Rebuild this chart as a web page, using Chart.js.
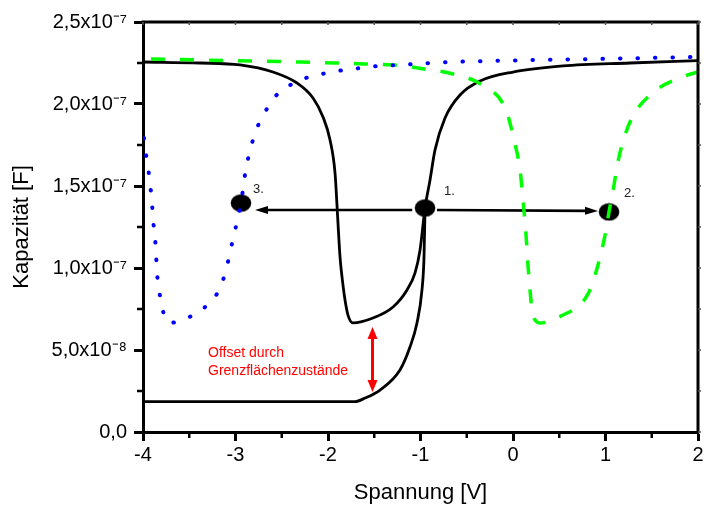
<!DOCTYPE html>
<html><head><meta charset="utf-8">
<script src="https://cdn.jsdelivr.net/npm/chart.js@4/dist/chart.umd.min.js"></script>
<style>html,body{margin:0;padding:0;background:#fff}#wrap{width:704px;height:510px}</style>
</head><body><div id="wrap"><canvas id="c" width="704" height="510"></canvas></div>
<script>
// ---- data (voltage in V, capacitance in F) ----
const xTickValues = [-4, -3, -2, -1, 0, 1, 2];
const xTickLabels = ['-4', '-3', '-2', '-1', '0', '1', '2'];
const yTickValues = [0, 0.5e-7, 1e-7, 1.5e-7, 2e-7, 2.5e-7];
const yTickLabels = ['0,0', '5,0x10\u207B\u2078', '1,0x10\u207B\u2077', '1,5x10\u207B\u2077', '2,0x10\u207B\u2077', '2,5x10\u207B\u2077'];

const blackUpperX = [-4.000,-3.384,-2.951,-2.595,-2.335,-2.162,-2.054,-1.978,-1.924,-1.892,-1.870,-1.838,-1.816,-1.784,-1.730,-1.514,-1.297,-1.146,-1.059,-1.005,-0.951,-0.897,-0.843,-0.735,-0.573,-0.357,0.000,0.541,1.265,2.000];
const blackUpperY = [2.256e-7,2.250e-7,2.238e-7,2.195e-7,2.128e-7,2.037e-7,1.921e-7,1.781e-7,1.579e-7,1.274e-7,1.067e-7,0.896e-7,0.805e-7,0.713e-7,0.665e-7,0.695e-7,0.762e-7,0.866e-7,0.970e-7,1.110e-7,1.366e-7,1.537e-7,1.720e-7,1.915e-7,2.055e-7,2.140e-7,2.195e-7,2.232e-7,2.250e-7,2.265e-7];

const blackLowerX = [-4.000,-1.708,-1.600,-1.438,-1.222,-1.114,-1.038,-0.984,-0.962,-0.951];
const blackLowerY = [0.185e-7,0.185e-7,0.207e-7,0.256e-7,0.378e-7,0.518e-7,0.665e-7,0.866e-7,1.067e-7,1.366e-7];

const blueX = [-3.989,-3.978,-3.946,-3.924,-3.903,-3.892,-3.870,-3.859,-3.849,-3.827,-3.795,-3.719,-3.524,-3.341,-3.189,-3.114,-3.070,-3.027,-2.984,-2.941,-2.886,-2.843,-2.789,-2.703,-2.584,-2.389,-2.205,-2.011,-1.827,-1.632,-1.449,-1.254,-1.059,-0.681,-0.303,0.941,2.000];
const blueY = [1.793e-7,1.732e-7,1.616e-7,1.512e-7,1.403e-7,1.299e-7,1.189e-7,1.085e-7,0.976e-7,0.872e-7,0.762e-7,0.665e-7,0.695e-7,0.756e-7,0.854e-7,0.963e-7,1.067e-7,1.177e-7,1.281e-7,1.396e-7,1.610e-7,1.714e-7,1.823e-7,1.927e-7,2.037e-7,2.122e-7,2.165e-7,2.189e-7,2.207e-7,2.220e-7,2.232e-7,2.238e-7,2.244e-7,2.256e-7,2.262e-7,2.275e-7,2.287e-7];

const greenX = [-4.000,-2.303,-1.924,-1.600,-1.286,-0.962,-0.649,-0.335,-0.076,0.011,0.076,0.108,0.141,0.162,0.184,0.205,0.259,0.292,0.519,0.811,0.919,0.995,1.038,1.092,1.124,1.178,1.286,1.535,1.859,2.000];
const greenY = [2.275e-7,2.256e-7,2.250e-7,2.244e-7,2.238e-7,2.214e-7,2.183e-7,2.116e-7,1.964e-7,1.781e-7,1.598e-7,1.415e-7,1.201e-7,1.018e-7,0.866e-7,0.744e-7,0.671e-7,0.665e-7,0.707e-7,0.842e-7,1.018e-7,1.201e-7,1.342e-7,1.506e-7,1.616e-7,1.750e-7,1.915e-7,2.079e-7,2.171e-7,2.195e-7];

// marked points 1., 2., 3.
const markX = [-0.951, 1.038, -2.941];
const markY = [1.366e-7, 1.342e-7, 1.396e-7];
const markLabels = ['1.', '2.', '3.'];
const markLabelX = [-0.746, 1.200, -2.811];
const markLabelY = [1.464e-7, 1.457e-7, 1.482e-7];

// arrows (from -> to)
const arrowFromX = [-1.090, -0.822];
const arrowFromY = [1.354e-7, 1.354e-7];
const arrowToX = [-2.789, 0.919];
const arrowToY = [1.354e-7, 1.348e-7];

// red offset arrow and note
const offsetArrowX = -1.519;
const offsetArrowY = [0.640e-7, 0.244e-7];
const noteLines = ['Offset durch', 'Grenzflächenzustände'];
const noteX = -3.297;
const noteY = [0.482e-7, 0.372e-7];

const xMinor = [-3.5, -2.5, -1.5, -0.5, 0.5, 1.5];
const yMinor = [0.25e-7, 0.75e-7, 1.25e-7, 1.75e-7, 2.25e-7];

const FONT = '"Liberation Sans", Arial, sans-serif';

function pts(xs, ys) { return xs.map((x, i) => ({x: x, y: ys[i]})); }

// ellipse marker
const dot = document.createElement('canvas');
dot.width = 22; dot.height = 19;
(function(){ const g = dot.getContext('2d'); g.fillStyle = '#000'; g.beginPath(); g.ellipse(11, 9.5, 10.3, 8.8, 0, 0, Math.PI*2); g.fill(); })();

function arrowHead(ctx, x1, y1, x2, y2, len, half) {
  const a = Math.atan2(y2 - y1, x2 - x1);
  ctx.beginPath();
  ctx.moveTo(x2, y2);
  ctx.lineTo(x2 - len*Math.cos(a) + half*Math.sin(a), y2 - len*Math.sin(a) - half*Math.cos(a));
  ctx.lineTo(x2 - len*Math.cos(a) - half*Math.sin(a), y2 - len*Math.sin(a) + half*Math.cos(a));
  ctx.closePath();
  ctx.fill();
}
function arrowLine(ctx, x1, y1, x2, y2, len) {
  const a = Math.atan2(y2 - y1, x2 - x1);
  ctx.beginPath();
  ctx.moveTo(x1, y1);
  ctx.lineTo(x2 - (len-1)*Math.cos(a), y2 - (len-1)*Math.sin(a));
  ctx.stroke();
}

const decor = {
  id: 'decor',
  beforeDatasetsDraw(chart) {
    const {ctx, scales: {x, y}} = chart;
    ctx.save();
    ctx.strokeStyle = '#000'; ctx.fillStyle = '#000'; ctx.lineWidth = 2.6; ctx.lineCap = 'butt';
    for (let i = 0; i < arrowFromX.length; i++) {
      const x1 = x.getPixelForValue(arrowFromX[i]), y1 = y.getPixelForValue(arrowFromY[i]);
      const x2 = x.getPixelForValue(arrowToX[i]), y2 = y.getPixelForValue(arrowToY[i]);
      arrowLine(ctx, x1, y1, x2, y2, 12);
      arrowHead(ctx, x1, y1, x2, y2, 13, 4);
    }
    ctx.strokeStyle = '#ff0000'; ctx.fillStyle = '#ff0000'; ctx.lineWidth = 3;
    const rx = x.getPixelForValue(offsetArrowX);
    const ry1 = y.getPixelForValue(offsetArrowY[0]), ry2 = y.getPixelForValue(offsetArrowY[1]);
    ctx.beginPath(); ctx.moveTo(rx, ry1 + 10); ctx.lineTo(rx, ry2 - 10); ctx.stroke();
    arrowHead(ctx, rx, ry2, rx, ry1, 12, 5);
    arrowHead(ctx, rx, ry1, rx, ry2, 12, 5);
    ctx.font = '14px ' + FONT; ctx.textAlign = 'left'; ctx.textBaseline = 'middle';
    for (let i = 0; i < noteLines.length; i++) {
      ctx.fillText(noteLines[i], x.getPixelForValue(noteX), y.getPixelForValue(noteY[i]));
    }
    ctx.fillStyle = '#222'; ctx.font = '13px ' + FONT;
    for (let i = 0; i < markLabels.length; i++) {
      ctx.fillText(markLabels[i], x.getPixelForValue(markLabelX[i]), y.getPixelForValue(markLabelY[i]));
    }
    ctx.restore();
  },
  afterDraw(chart) {
    const {ctx, chartArea: ca, scales: {x, y}} = chart;
    ctx.save();
    ctx.strokeStyle = '#000';
    ctx.lineWidth = 3;
    ctx.beginPath();
    ctx.moveTo(ca.left - 1.5, ca.top); ctx.lineTo(ca.right, ca.top); ctx.lineTo(ca.right, ca.bottom + 1.5);
    ctx.stroke();
    ctx.lineWidth = 2.5;
    yMinor.forEach(v => { const p = y.getPixelForValue(v); ctx.beginPath(); ctx.moveTo(ca.left - 6, p); ctx.lineTo(ca.left, p); ctx.stroke(); });
    xMinor.forEach(v => { const p = x.getPixelForValue(v); ctx.beginPath(); ctx.moveTo(p, ca.bottom); ctx.lineTo(p, ca.bottom + 6); ctx.stroke(); });
    ctx.lineWidth = 1.5; ctx.strokeStyle = '#555';
    [...xTickValues, ...xMinor].forEach(v => { const p = x.getPixelForValue(v); ctx.beginPath(); ctx.moveTo(p, ca.top); ctx.lineTo(p, ca.top + 3); ctx.stroke(); });
    [...yTickValues, ...yMinor].forEach(v => { const p = y.getPixelForValue(v); ctx.beginPath(); ctx.moveTo(ca.right, p); ctx.lineTo(ca.right + 3, p); ctx.stroke(); });
    ctx.restore();
  }
};

const chart = new Chart(document.getElementById('c'), {
  type: 'line',
  data: {
    datasets: [
      { label: 'blue', data: pts(blueX, blueY), borderColor: '#0000ff', borderWidth: 4, borderDash: [0.5, 17], borderCapStyle: 'round', pointRadius: 0, cubicInterpolationMode: 'monotone', fill: false },
      { label: 'green', data: pts(greenX, greenY), borderColor: '#00ff00', borderWidth: 3.5, borderDash: [14, 15], borderDashOffset: -8, pointRadius: 0, cubicInterpolationMode: 'monotone', fill: false },
      { label: 'black lower', data: pts(blackLowerX, blackLowerY), borderColor: '#000', borderWidth: 2.8, pointRadius: 0, cubicInterpolationMode: 'monotone', fill: false },
      { label: 'black upper', data: pts(blackUpperX, blackUpperY), borderColor: '#000', borderWidth: 2.8, pointRadius: 0, cubicInterpolationMode: 'monotone', fill: false },
      { label: 'points', data: pts(markX, markY), showLine: false, pointStyle: dot, pointRadius: 10, backgroundColor: '#000', borderColor: '#000' }
    ]
  },
  options: {
    responsive: false,
    animation: false,
    devicePixelRatio: 1,
    layout: { autoPadding: false, padding: { top: 22, right: 6, left: 0, bottom: 0 } },
    plugins: { legend: { display: false }, tooltip: { enabled: false } },
    scales: {
      x: {
        type: 'linear', min: -4, max: 2,
        afterBuildTicks: s => { s.ticks = xTickValues.map(v => ({value: v})); },
        afterFit: s => { s.height = 78; s.paddingRight = 0; s.paddingLeft = 0; },
        border: { display: true, color: '#000', width: 3 },
        grid: { drawOnChartArea: false, drawTicks: true, tickLength: 9, tickWidth: 3, tickColor: '#000' },
        ticks: { color: '#000', font: { family: FONT, size: 20 }, padding: 2, maxRotation: 0,
                 callback: (v, i) => xTickLabels[i] },
        title: { display: true, text: 'Spannung [V]', color: '#000', font: { family: FONT, size: 22 }, padding: { top: 0, bottom: 4 } }
      },
      y: {
        type: 'linear', min: 0, max: 2.5e-7,
        afterBuildTicks: s => { s.ticks = yTickValues.map(v => ({value: v})); },
        afterFit: s => { s.width = 143; s.paddingTop = 0; s.paddingBottom = 0; },
        border: { display: true, color: '#000', width: 3 },
        grid: { drawOnChartArea: false, drawTicks: true, tickLength: 9, tickWidth: 3, tickColor: '#000' },
        ticks: { color: '#000', font: { family: FONT, size: 20 }, padding: 7,
                 callback: (v, i) => yTickLabels[i] },
        title: { display: true, text: 'Kapazität [F]', color: '#000', font: { family: FONT, size: 22 }, padding: { top: 9, bottom: 0 } }
      }
    }
  },
  plugins: [decor]
});
</script>
</body></html>
